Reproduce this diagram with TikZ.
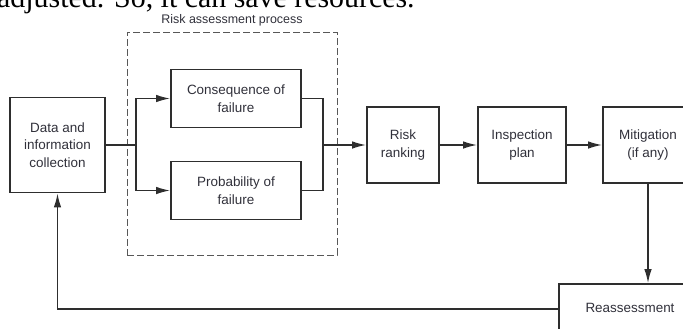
\documentclass[tikz,border=0pt]{standalone}
\usepackage{fontspec}
\setmainfont{Liberation Sans}
\newfontfamily\bodyserif{Liberation Serif}
\usetikzlibrary{arrows.meta}
\definecolor{ink}{HTML}{2E2E2E}
\definecolor{txt}{HTML}{30303A}
\tikzset{
  blk/.style={draw=ink, line width=1.6bp, rectangle, align=center, text=txt,
    font=\fontsize{13.5}{17.5}\selectfont, inner sep=0pt},
  conn/.style={draw=ink, line width=1.6bp},
  arr/.style={conn, -{Latex[length=14bp,width=7.5bp]}},
  dashbox/.style={draw=ink!80, line width=1bp, dash pattern=on 7bp off 3bp, rectangle, inner sep=0pt}
}
\begin{document}
\begin{tikzpicture}[x=1bp,y=-1bp]
\useasboundingbox (0,0) rectangle (683,328);
\begin{scope}
\clip (0,0) rectangle (683,328);
% cut-off text line at top
\node[anchor=base west, inner sep=0pt, font=\bodyserif\fontsize{30}{34}\selectfont, text=black] (top) at (-3,7) {adjusted. So, it can save resources.};

% dashed process box
\node[dashbox, minimum width=210bp, minimum height=223bp] (rap) at (232,143.5) {};
\node[text=txt, font=\fontsize{12.5}{15}\selectfont, inner sep=0pt] (raplbl) at (232,20) {Risk assessment process};

% boxes
\node[blk, minimum width=95bp, minimum height=95bp] (data) at (57.5,145) {Data and\\information\\collection};
\node[blk, minimum width=130bp, minimum height=58bp] (cons) at (236,98.5) {Consequence of\\failure};
\node[blk, minimum width=130bp, minimum height=58bp] (prob) at (236,190.5) {Probability of\\failure};
\node[blk, minimum width=72bp, minimum height=76bp] (risk) at (403,145) {Risk\\ranking};
\node[blk, minimum width=88bp, minimum height=76bp] (insp) at (522,145) {Inspection\\plan};
\node[blk, minimum width=90bp, minimum height=76bp] (mitig) at (648,145) {Mitigation\\(if any)};
\node[blk, minimum width=142bp, minimum height=50bp] (reass) at (630,309) {\raisebox{3bp}{Reassessment}};

% junctions
\coordinate (jl) at (136,145);
\coordinate (jr) at (323,145);

% connectors
\draw[conn] (data.east) -- (jl);
\draw[arr] (jl) |- (cons.west);
\draw[arr] (jl) |- (prob.west);
\draw[conn] (cons.east) -| (jr);
\draw[conn] (prob.east) -| (jr);
\draw[arr] (jr) -- (risk.west);
\draw[arr] (risk) -- (insp);
\draw[arr] (insp) -- (mitig);
\draw[arr] (mitig.south) -- (mitig.south |- reass.north);
\draw[arr] (reass.west) -- (data.south |- reass.west) -- (data.south);
\end{scope}
\end{tikzpicture}
\end{document}
